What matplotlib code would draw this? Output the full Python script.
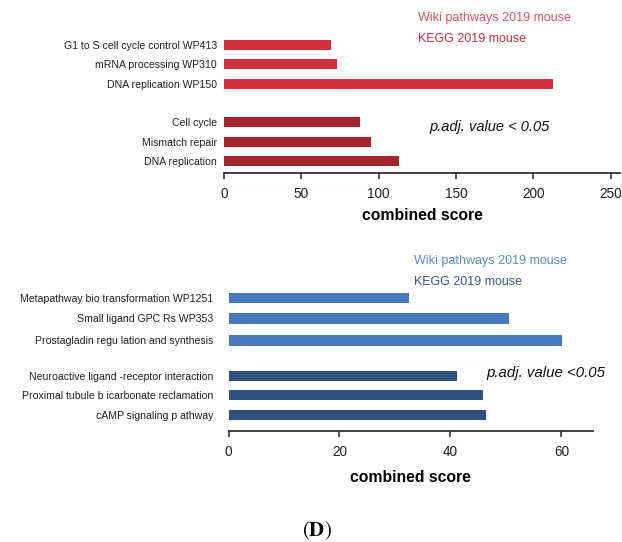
import matplotlib
matplotlib.use("Agg")
import matplotlib.pyplot as plt

plt.rcParams['font.family'] = ['Liberation Sans', 'DejaVu Sans']
plt.rcParams['mathtext.fontset'] = 'stix'

# top panel: enrichment (red)
top_wiki_terms = ["G1 to S cell cycle control WP413", "mRNA processing WP310", "DNA replication WP150"]
top_wiki_scores = [69, 73, 213]
top_kegg_terms = ["Cell cycle", "Mismatch repair", "DNA replication"]
top_kegg_scores = [88, 95, 113]
top_ticks = [0, 50, 100, 150, 200, 250]

# bottom panel: enrichment (blue)
bot_wiki_terms = ["Metapathway bio transformation WP1251", "Small ligand GPC Rs WP353",
                  "Prostagladin regu lation and synthesis"]
bot_wiki_scores = [32.6, 50.5, 60.2]
bot_kegg_terms = ["Neuroactive ligand -receptor interaction", "Proximal tubule b icarbonate reclamation",
                  "cAMP signaling p athway"]
bot_kegg_scores = [41.1, 45.8, 46.5]
bot_ticks = [0, 20, 40, 60]

W, H = 622, 542
fig = plt.figure(figsize=(W / 100, H / 100), dpi=100)


def px_axes(x0, y0, x1, y1):
    # pixel box (top-left origin) -> axes
    return fig.add_axes([x0 / W, 1 - y1 / H, (x1 - x0) / W, (y1 - y0) / H])


def draw_panel(ax, wiki_terms, wiki_scores, kegg_terms, kegg_scores, wiki_pos, kegg_pos,
               c_wiki, c_kegg, ticks, xmax, ylim, pad, labelpad):
    ax.barh(wiki_pos, wiki_scores, height=0.52, color=c_wiki, align='center')
    ax.barh(kegg_pos, kegg_scores, height=0.52, color=c_kegg, align='center')
    ax.set_yticks(list(wiki_pos) + list(kegg_pos))
    ax.set_yticklabels(list(wiki_terms) + list(kegg_terms), fontsize=7.6, color='#222222')
    ax.tick_params(axis='y', length=0, pad=pad)
    ax.set_xticks(ticks)
    ax.tick_params(axis='x', direction='out', length=4, width=1.2, color='#333333',
                   labelsize=9.8, pad=6, labelcolor='#222222')
    ax.set_xlim(0, xmax)
    ax.set_ylim(*ylim)
    for s in ['top', 'right', 'left']:
        ax.spines[s].set_visible(False)
    ax.spines['bottom'].set_linewidth(1.3)
    ax.spines['bottom'].set_color('#333333')
    ax.set_facecolor('none')
    ax.set_xlabel('combined score', fontsize=11.3, fontweight='bold', labelpad=labelpad)


ax1 = px_axes(224, 30, 620, 173)
draw_panel(ax1, top_wiki_terms, top_wiki_scores, top_kegg_terms, top_kegg_scores,
           [6, 5, 4], [2, 1, 0], '#d12f3a', '#a3242b', top_ticks, 256, (-0.62, 6.78), 5, 5)
fig.text(418 / W, 1 - 18 / H, 'Wiki pathways 2019 mouse', color='#e0505a', fontsize=9, va='center')
fig.text(418 / W, 1 - 39 / H, 'KEGG 2019 mouse', color='#c8303c', fontsize=9, va='center')
fig.text(429 / W, 1 - 127 / H, 'p.adj. value < 0.05', fontsize=10.5, style='italic',
         color='#111111', va='center')

ax2 = px_axes(228.5, 285, 593, 431)
draw_panel(ax2, bot_wiki_terms, bot_wiki_scores, bot_kegg_terms, bot_kegg_scores,
           [5.89, 4.87, 3.76], [1.98, 1.02, 0], '#4679be', '#2f5180', bot_ticks, 65.7,
           (-0.81, 6.56), 11, 8)
fig.text(414 / W, 1 - 261 / H, 'Wiki pathways 2019 mouse', color='#5a8acb', fontsize=9, va='center')
fig.text(414 / W, 1 - 282 / H, 'KEGG 2019 mouse', color='#3a5a88', fontsize=9, va='center')
fig.text(486 / W, 1 - 373 / H, 'p.adj. value <0.05', fontsize=10.8, style='italic',
         color='#111111', va='center')

fig.text(317 / W, 1 - 531 / H, r'$(\mathbf{D})$', fontsize=15,
         ha='center', va='center')

fig.savefig('out.png', dpi=100)
